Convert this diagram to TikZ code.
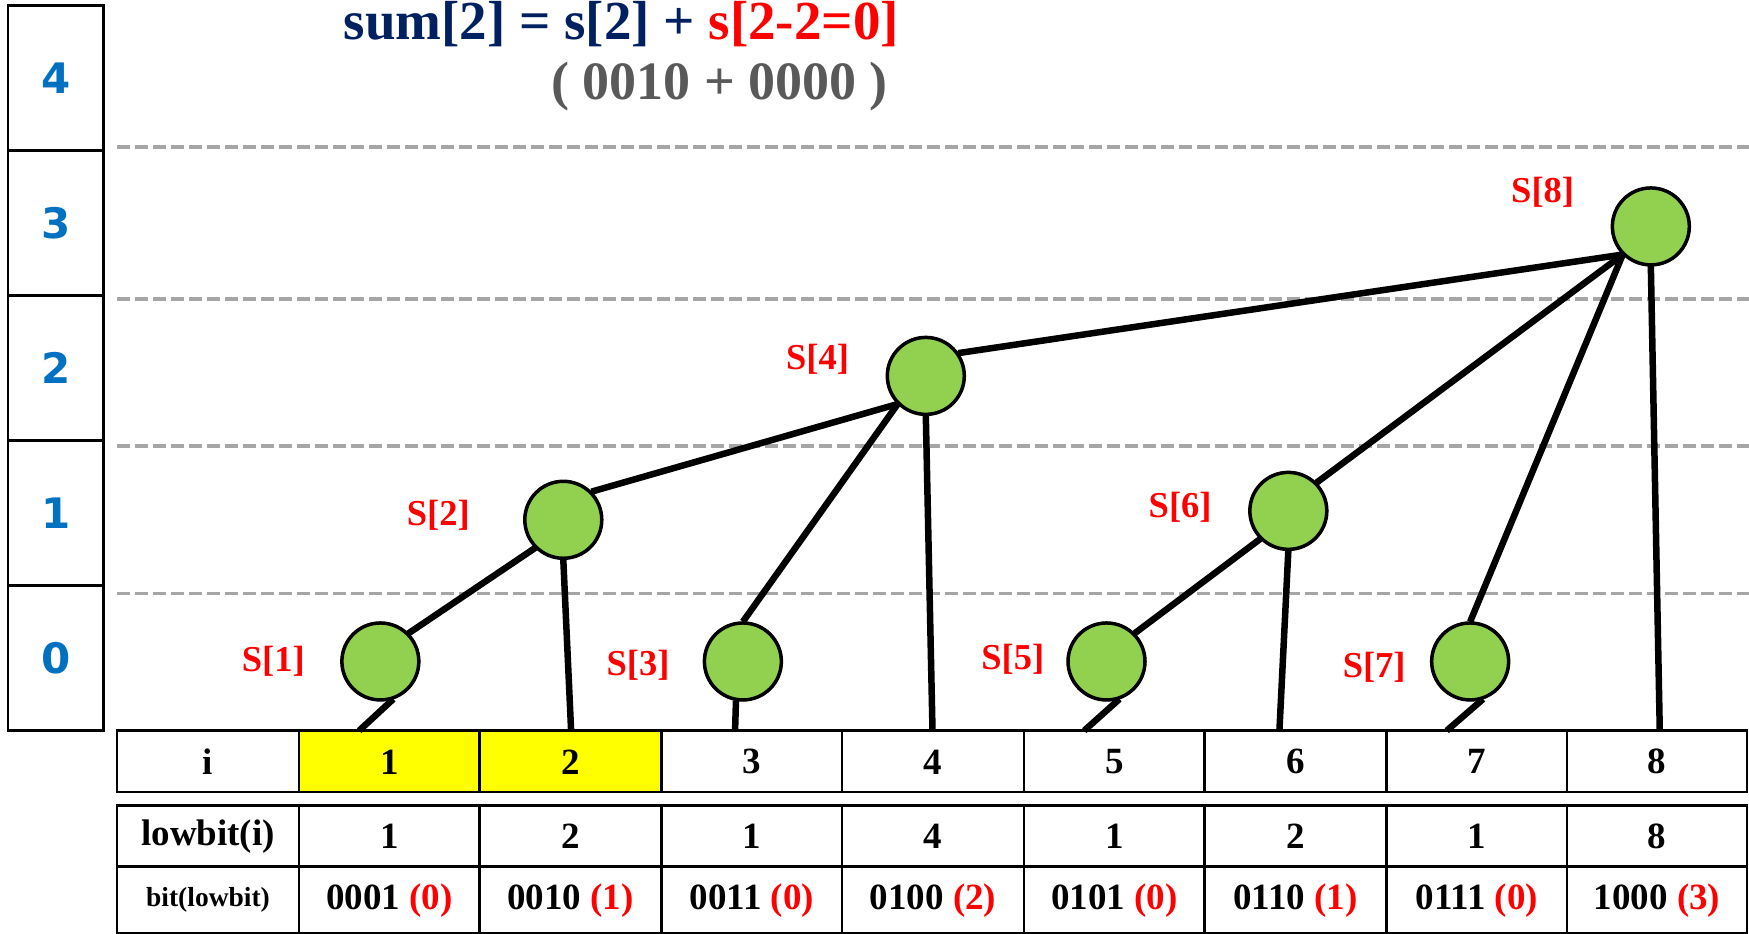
\documentclass[tikz,border=0pt]{standalone}
\usepackage{fontspec}
\setmainfont{Liberation Serif}
\newfontfamily\numfont{DejaVu Sans}
\definecolor{navy}{RGB}{0,32,96}
\definecolor{lvlblue}{RGB}{0,112,192}
\definecolor{leafgreen}{RGB}{146,208,80}
\definecolor{dashgray}{RGB}{166,166,166}
\definecolor{txtgray}{RGB}{89,89,89}
\definecolor{hiyellow}{RGB}{255,255,0}
\begin{document}
\begin{tikzpicture}[x=1.1154pt,y=-1.1154pt,
  circ/.style={circle,draw=black,line width=3.5pt,fill=leafgreen,minimum size=76pt,inner sep=0pt},
  edge/.style={line width=6.5pt},
  slabel/.style={text=red,font=\fontsize{36.5}{40}\selectfont\bfseries},
  lvl/.style={text=lvlblue,font=\numfont\fontsize{42}{46}\selectfont\bfseries},
  cell/.style={font=\fontsize{37}{42}\selectfont\bfseries},
  smallcell/.style={font=\fontsize{27.5}{32}\selectfont\bfseries},
  grid/.style={line width=2.5pt},
  guide/.style={dashgray,line width=3.8pt,dash pattern=on 13pt off 5pt}
]
\useasboundingbox (0,0) rectangle (1568,837);
% left level column
\foreach \ya/\yb/\t in {5/135/4,135/265/3,265/395/2,395/525/1,525/655/0}{
  \draw[grid] (7,\ya) rectangle (93,\yb);
  \node[lvl] (L\t) at (50,{(\ya+\yb)/2}) {\t};
}
% dashed guides
\foreach \y in {132,268,400,532}{
  \draw[guide] (105,\y) -- (1568,\y);
}
% title
\node[text=navy,font=\fontsize{55}{62}\selectfont\bfseries] (title) at (557,22) {sum[2] = s[2] + \textcolor{red}{s[2-2=0]}};
\node[text=txtgray,font=\fontsize{54}{62}\selectfont\bfseries] (sub) at (645,78) {( 0010 + 0000 )};
% table
\fill[hiyellow] (268,655) rectangle (593,710);
\foreach \xa/\xb in {105/268,268/430,430/593,593/755,755/918,918/1080,1080/1243,1243/1405,1405/1566}{
  \draw[grid] (\xa,655) rectangle (\xb,710);
  \draw[grid] (\xa,722) rectangle (\xb,777);
  \draw[grid] (\xa,777) rectangle (\xb,837);
}
\node[cell] (hi) at (186.5,683) {i};
\node[cell] (hl) at (186.5,750) {lowbit(i)};
\node[smallcell] (hb) at (186.5,807) {bit(lowbit)};
\foreach \k/\x/\lb/\bits/\p in {1/349/1/0001/0,2/511.5/2/0010/1,3/674/1/0011/0,4/836.5/4/0100/2,5/999/1/0101/0,6/1161.5/2/0110/1,7/1324/1/0111/0,8/1485.5/8/1000/3}{
  \node[cell] (i\k) at (\x,683) {\k};
  \node[cell] (lb\k) at (\x,750) {\lb};
  \node[cell] (b\k) at (\x,807) {\bits\ \textcolor{red}{(\p)}};
}
% table-top attachment points
\coordinate (t1) at (322,655);
\coordinate (t2) at (512,655);
\coordinate (t3) at (659,655);
\coordinate (t4) at (836,655);
\coordinate (t5) at (972,655);
\coordinate (t6) at (1147,655);
\coordinate (t7) at (1297,655);
\coordinate (t8) at (1488,655);
% nodes
\node[circ] (S1) at (341,593) {};
\node[circ] (S2) at (505,466) {};
\node[circ] (S3) at (666,593) {};
\node[circ] (S4) at (830,337) {};
\node[circ] (S5) at (992,593) {};
\node[circ] (S6) at (1155,458) {};
\node[circ] (S7) at (1318,593) {};
\node[circ] (S8) at (1480,203) {};
% edges
\draw[edge] (S1.-71) -- (t1);
\draw[edge] (S2.south) -- (t2);
\draw[edge] (S3.-100) -- (t3);
\draw[edge] (S4.south) -- (t4);
\draw[edge] (S5.-71) -- (t5);
\draw[edge] (S6.south) -- (t6);
\draw[edge] (S7.-71) -- (t7);
\draw[edge] (S8.south) -- (t8);
\draw[edge] (S1.north east) -- (S2.south west);
\draw[edge] (S2.north east) -- (S4.south west);
\draw[edge] (S3.north) -- (S4.south west);
\draw[edge] (S4.35) -- (S8.south west);
\draw[edge] (S5.north east) -- (S6.south west);
\draw[edge] (S6.north east) -- (S8.south west);
\draw[edge] (S7.north) -- (S8.south west);
% redraw circles on top of the edges
\foreach \n in {S1,S2,S3,S4,S5,S6,S7,S8}{
  \draw[line width=3.5pt,fill=leafgreen] (\n.center) circle (34.5);
}
% labels
\node[slabel] (l1) at (245,593) {S[1]};
\node[slabel] (l2) at (393,462) {S[2]};
\node[slabel] (l3) at (572,596) {S[3]};
\node[slabel] (l4) at (733,322) {S[4]};
\node[slabel] (l5) at (908,591) {S[5]};
\node[slabel] (l6) at (1058,455) {S[6]};
\node[slabel] (l7) at (1232,598) {S[7]};
\node[slabel] (l8) at (1383,172) {S[8]};
\end{tikzpicture}
\end{document}
